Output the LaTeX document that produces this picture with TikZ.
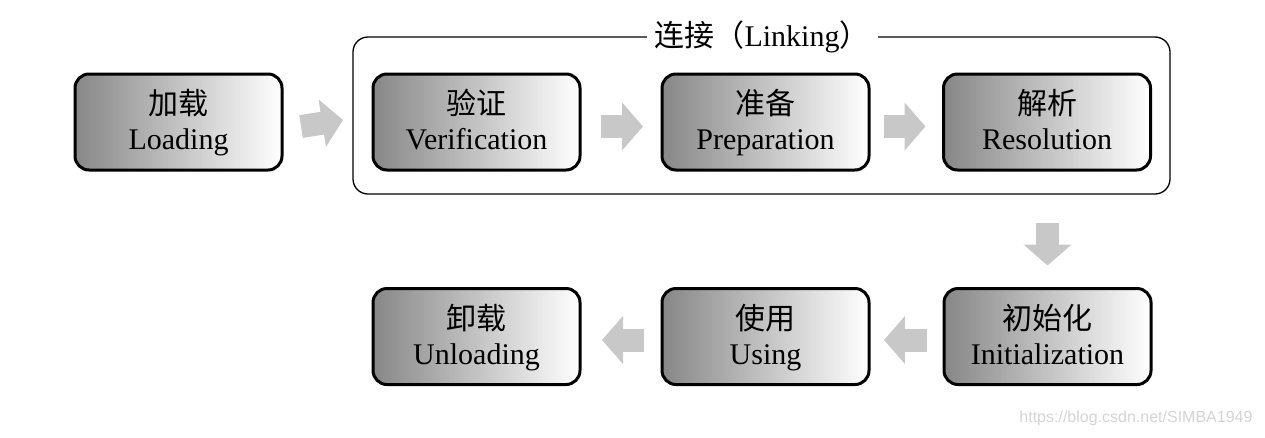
\documentclass[tikz,border=0pt]{standalone}
\usepackage{fontspec}
\setmainfont{Liberation Serif}
\newfontfamily\cjk{Noto Sans CJK SC}
\newfontfamily\wmfont{Liberation Sans}
\usetikzlibrary{arrows.meta,calc}
\definecolor{arrowgray}{RGB}{200,200,200}
\definecolor{boxdark}{RGB}{135,135,135}
\definecolor{wmgray}{RGB}{212,212,212}
\newcommand{\stagetext}[2]{\rule{0pt}{27pt}{\cjk #1}\\#2\rule[-7pt]{0pt}{7pt}}
\begin{document}
\begin{tikzpicture}[x=1pt,y=-1pt,
  stage/.style={draw=black, line width=3pt, rounded corners=14pt,
    left color=boxdark, right color=white, minimum width=207pt,
    minimum height=96pt, outer sep=0pt, inner sep=0pt, align=center,
    font=\fontsize{30}{35}\selectfont},
  container/.style={draw=black, line width=1.3pt, rounded corners=15pt,
    minimum width=817pt, minimum height=157pt, outer sep=0pt, inner sep=0pt},
  grouplabel/.style={fill=white, inner xsep=8pt, inner ysep=2pt,
    font=\fontsize{30}{35}\selectfont},
  blockarrow/.style={draw=arrowgray, line width=23pt,
    -{Triangle[length=21pt,width=47pt,fill=arrowgray]}}
]
\useasboundingbox (0,0) rectangle (1265,437);

% linking container
\node[container] (link) at (761.5,115.5) {};
\node[grouplabel] (linklabel) at (762,37) {{\cjk 连接（}Linking{\cjk ）}};

% stages
\node[stage] (load)    at (178.5,122)  {\stagetext{加载}{Loading}};
\node[stage] (verify)  at (476.5,122)  {\stagetext{验证}{Verification}};
\node[stage] (prepare) at (765.5,122)  {\stagetext{准备}{Preparation}};
\node[stage] (resolve) at (1047,122)   {\stagetext{解析}{Resolution}};
\node[stage] (init)    at (1047.5,336.5) {\stagetext{初始化}{Initialization}};
\node[stage] (use)     at (765.5,336.5)  {\stagetext{使用}{Using}};
\node[stage] (unload)  at (476.5,336.5)  {\stagetext{卸载}{Unloading}};

% block arrows
\draw[blockarrow] ([xshift=19pt,yshift=-4.5pt]load.east) -- ([xshift=-10pt,yshift=-4.5pt]link.west);
\draw[blockarrow] ([xshift=21pt,yshift=-4.5pt]verify.east) -- ([xshift=-19pt,yshift=-4.5pt]prepare.west);
\draw[blockarrow] ([xshift=15pt,yshift=-4.5pt]prepare.east) -- ([xshift=-18pt,yshift=-4.5pt]resolve.west);
\draw[blockarrow] ($(init.north |- link.south)+(0,29)$) -- ($(init.north)+(0,-23)$);
\draw[blockarrow] ([xshift=-17pt,yshift=-3.5pt]init.west) -- ([xshift=15pt,yshift=-3.5pt]use.east);
\draw[blockarrow] ([xshift=-18pt,yshift=-3.5pt]use.west) -- ([xshift=22pt,yshift=-3.5pt]unload.east);

% watermark
\node[text=wmgray, font=\wmfont\fontsize{16}{18}\selectfont, anchor=east] (wm) at (1256,418) {https://blog.csdn.net/SIMBA1949};
\end{tikzpicture}
\end{document}
